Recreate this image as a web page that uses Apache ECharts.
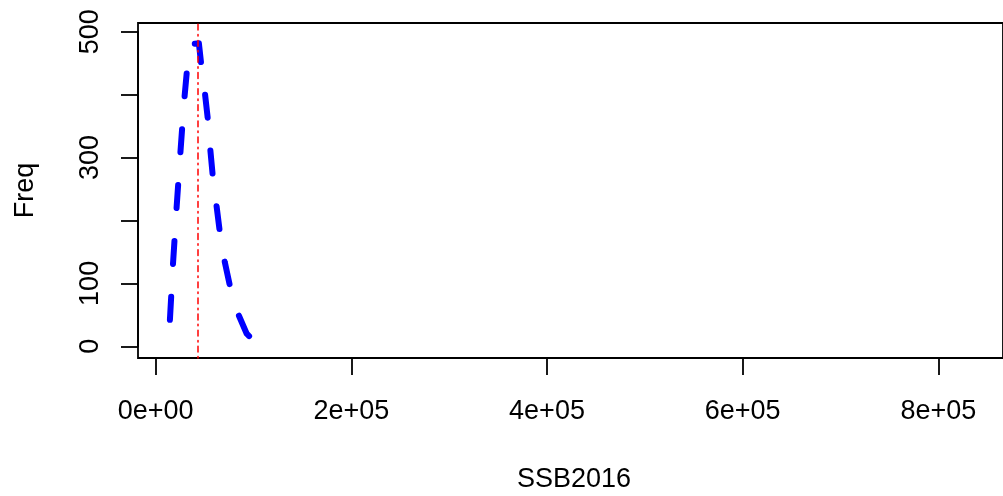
<!DOCTYPE html>
<html>
<head>
<meta charset="utf-8">
<script src="https://cdn.jsdelivr.net/npm/echarts@6/dist/echarts.min.js"></script>
<style>
html,body{margin:0;padding:0;background:#fff;}
#chart{width:1003px;height:496px;}
</style>
</head>
<body>
<div id="chart"></div>
<script>
// SSB2016 values (x) and frequencies (y)
const ssb = [14600, 17700, 21300, 24800, 28900, 33500, 37100, 44300, 46800, 50400, 53500, 56000, 58600, 62200, 65700, 70800, 76500, 84100, 93300, 98400];
const freq = [42, 129, 217, 296, 384, 463, 480, 481, 446, 403, 360, 312, 269, 225, 182, 134, 93, 53, 20, 12];
const refLine = 43000;
const xTicks = [0, 200000, 400000, 600000, 800000];
const xTickLabels = ['0e+00', '2e+05', '4e+05', '6e+05', '8e+05'];
const yTicks = [0, 100, 200, 300, 400, 500];
const yTickLabels = ['0', '100', '', '300', '', '500'];
const xTitle = 'SSB2016';
const yTitle = 'Freq';

const FONT = '"Liberation Sans", Arial, Helvetica, sans-serif';
const FS = 27;

const chart = echarts.init(document.getElementById('chart'), null, {renderer: 'canvas'});
const pts = ssb.map((x, i) => [x, freq[i]]);

const axisLineStyle = {color: '#000', width: 1.8};

chart.setOption({
  animation: false,
  backgroundColor: '#ffffff',
  grid: [
    // plot box (data region); its right edge lies just past the window
    {left: 138, right: -2, top: 23, bottom: 138, show: true, borderColor: '#000', borderWidth: 1.8, backgroundColor: 'transparent'},
    // x tick range
    {left: 155.7, right: 64.7, top: 23, bottom: 138, show: false},
    // y tick range
    {left: 138, right: 1, top: 31.7, bottom: 149.7, show: false}
  ],
  xAxis: [
    {gridIndex: 0, type: 'value', min: -18093, max: 868200, show: false},
    {gridIndex: 1, type: 'value', min: xTicks[0], max: xTicks[xTicks.length - 1], interval: 200000,
     position: 'bottom',
     axisLine: {show: true, lineStyle: axisLineStyle},
     axisTick: {show: true, inside: false, length: 17, lineStyle: axisLineStyle},
     splitLine: {show: false},
     axisLabel: {margin: 40, color: '#000', fontFamily: FONT, fontSize: FS,
       formatter: v => { const i = xTicks.indexOf(v); return i >= 0 ? xTickLabels[i] : ''; }}
    },
    {gridIndex: 2, type: 'value', min: 0, max: 1, show: false}
  ],
  yAxis: [
    {gridIndex: 0, type: 'value', min: -18.6, max: 513.3, show: false},
    {gridIndex: 1, type: 'value', min: 0, max: 1, show: false},
    {gridIndex: 2, type: 'value', min: yTicks[0], max: yTicks[yTicks.length - 1], interval: 100,
     position: 'left',
     axisLine: {show: true, lineStyle: axisLineStyle},
     axisTick: {show: true, inside: false, length: 17, lineStyle: axisLineStyle},
     splitLine: {show: false},
     axisLabel: {margin: 34, rotate: 90, color: '#000', fontFamily: FONT, fontSize: FS,
       formatter: v => { const i = yTicks.indexOf(v); return i >= 0 ? yTickLabels[i] : ''; }}
    }
  ],
  graphic: [
    {type: 'text', x: 574, y: 480, style: {text: xTitle, font: FS + 'px ' + FONT, fill: '#000', textAlign: 'center', textVerticalAlign: 'middle'}},
    {type: 'text', x: 26, y: 190.5, rotation: Math.PI / 2, style: {text: yTitle, font: FS + 'px ' + FONT, fill: '#000', textAlign: 'center', textVerticalAlign: 'middle'}}
  ],
  series: [
    {type: 'line', xAxisIndex: 0, yAxisIndex: 0, data: pts, symbol: 'none', clip: false, z: 3,
     lineStyle: {color: '#0000ff', width: 6, type: [23, 33], cap: 'round', join: 'round'},
     markLine: {silent: true, symbol: ['none', 'none'], label: {show: false}, z: 4,
       lineStyle: {color: '#ff0000', width: 1.5, type: [1.5, 4.4, 5.8, 4.4], cap: 'round'},
       data: [{xAxis: refLine}]}}
  ]
});
</script>
</body>
</html>
